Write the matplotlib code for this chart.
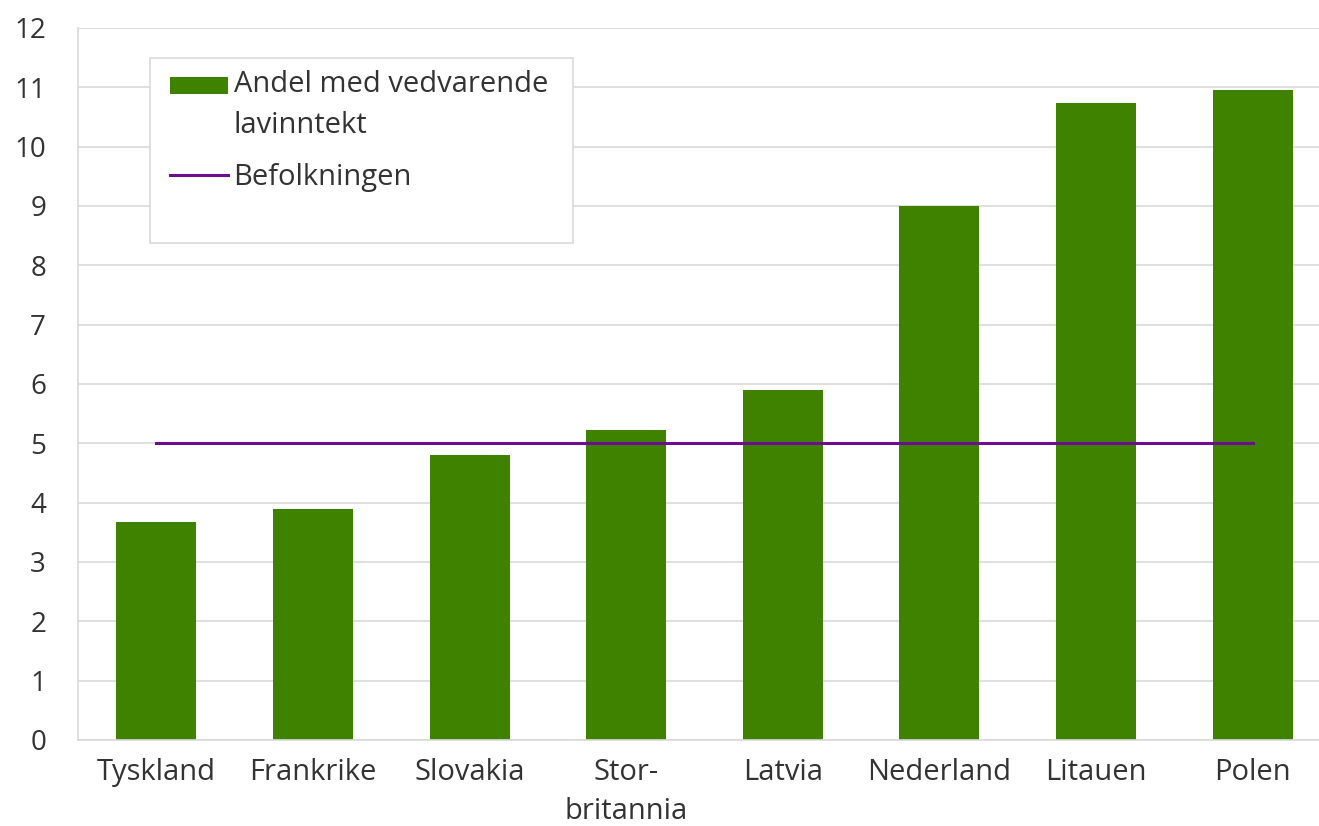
import matplotlib
matplotlib.use("Agg")
from matplotlib import pyplot as plt
from matplotlib.patches import Rectangle
from matplotlib.legend_handler import HandlerPatch
import numpy as np

plt.rcParams['font.family'] = ['Open Sans', 'DejaVu Sans']

countries = ["Tyskland", "Frankrike", "Slovakia", "Stor-\nbritannia", "Latvia",
			 "Nederland", "Litauen", "Polen"]
andel = [3.67, 3.9, 4.8, 5.23, 5.9, 9.0, 10.73, 10.96]
befolkningen = [5.0, 5.0, 5.0, 5.0, 5.0, 5.0, 5.0, 5.0]
yticks = list(range(0, 13))

GREEN = "#3F8200"
PURPLE = "#6B0E91"
GRID = "#D9D9D9"
TEXT = "#333333"
FS = 21

W, H = 1319, 826
fig = plt.figure(figsize=(W/100, H/100), dpi=100)
ax = fig.add_axes([78/W, 1 - 740/H, (1331 - 78)/W, (740 - 28)/H])

x = np.arange(len(countries))
bars = ax.bar(x, andel, width=0.51, color=GREEN, zorder=2)
line, = ax.plot(x, befolkningen, color=PURPLE, linewidth=2.2, zorder=3)

ax.set_xlim(-0.5, len(countries) - 0.5)
ax.set_ylim(0, 12)
ax.set_yticks(yticks)
ax.set_xticks(x)
ax.set_xticklabels(countries, fontsize=FS, color=TEXT, linespacing=1.45)
ax.tick_params(axis='y', labelsize=20, labelcolor=TEXT, length=0, pad=23)
ax.tick_params(axis='x', length=0, pad=13)
ax.grid(axis='y', color=GRID, linewidth=1.2, zorder=0)
ax.set_axisbelow(True)

for s in ['top', 'right']:
	ax.spines[s].set_visible(False)
for s in ['left', 'bottom']:
	ax.spines[s].set_color(GRID)
	ax.spines[s].set_linewidth(1.2)

# legend box (Excel style, larger than its contents)
fig.patches.append(Rectangle((150/W, 1 - 243/H), (573 - 150)/W, (243 - 58)/H,
							 transform=fig.transFigure, facecolor='white',
							 edgecolor=GRID, linewidth=1.2, zorder=5))

# put the bar swatch next to the first line of its two-line label
def top_patch(legend, orig_handle, xdescent, ydescent, width, height, fontsize):
	return Rectangle((-xdescent, -ydescent + 14.5), width, height)

leg = fig.legend([bars.patches[0], line], ["Andel med vedvarende\nlavinntekt", "Befolkningen"],
				 loc='upper left', bbox_to_anchor=(170/W, 1 - 70/H),
				 fontsize=FS, frameon=False, handlelength=2.0, handleheight=0.55,
				 handletextpad=0.18, borderpad=0, labelspacing=0.77, borderaxespad=0,
				 handler_map={Rectangle: HandlerPatch(patch_func=top_patch)})
leg.set_zorder(6)
for t in leg.get_texts():
	t.set_color(TEXT)
	t.set_linespacing(1.55)

fig.savefig("out.png", dpi=100)
